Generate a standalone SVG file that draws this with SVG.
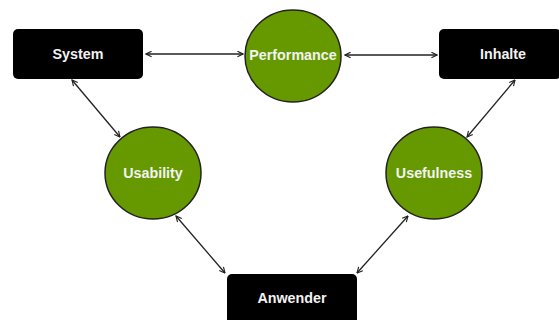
<svg xmlns="http://www.w3.org/2000/svg" width="559" height="320" viewBox="0 0 559 320">
<style>
.box{fill:#000;}
.circ{fill:#669900;stroke:#222;stroke-width:1.5;}
.lbl{fill:#f2f2f2;font-family:"Liberation Sans",Arial,sans-serif;font-weight:bold;font-size:14.3px;text-anchor:middle;dominant-baseline:central;}
.con{stroke:#222;stroke-width:1.3;fill:none;marker-start:url(#a);marker-end:url(#a);}
</style>
<defs>
<marker id="a" viewBox="0 0 10 10" refX="9" refY="5" markerWidth="7" markerHeight="7" orient="auto-start-reverse" markerUnits="userSpaceOnUse">
<path d="M1,1 L9,5 L1,9" fill="none" stroke="#222" stroke-width="1.6"/>
</marker>
</defs>
<rect width="559" height="320" fill="#fff"/>
<g id="connectors">
<line class="con" x1="146" y1="54" x2="243" y2="54"/>
<line class="con" x1="345" y1="55" x2="437" y2="55"/>
<line class="con" x1="72" y1="80" x2="120" y2="137"/>
<line class="con" x1="515" y1="80" x2="467" y2="137"/>
<line class="con" x1="176" y1="216" x2="225" y2="273"/>
<line class="con" x1="408" y1="216" x2="357" y2="273"/>
</g>
<g id="system"><rect class="box" x="13" y="29" width="130" height="50" rx="5"/><text class="lbl" x="78" y="54">System</text></g>
<g id="inhalte"><rect class="box" x="439" y="29" width="122" height="50" rx="5"/><text class="lbl" x="503" y="54">Inhalte</text></g>
<g id="anwender"><rect class="box" x="227" y="274" width="130" height="52" rx="5"/><text class="lbl" x="292" y="298">Anwender</text></g>
<g id="performance"><ellipse class="circ" cx="293" cy="56" rx="48" ry="46"/><text class="lbl" x="293" y="55">Performance</text></g>
<g id="usability"><ellipse class="circ" cx="153" cy="173" rx="48" ry="46"/><text class="lbl" x="153" y="173">Usability</text></g>
<g id="usefulness"><ellipse class="circ" cx="434" cy="173" rx="48" ry="46"/><text class="lbl" x="434" y="173">Usefulness</text></g>
</svg>
